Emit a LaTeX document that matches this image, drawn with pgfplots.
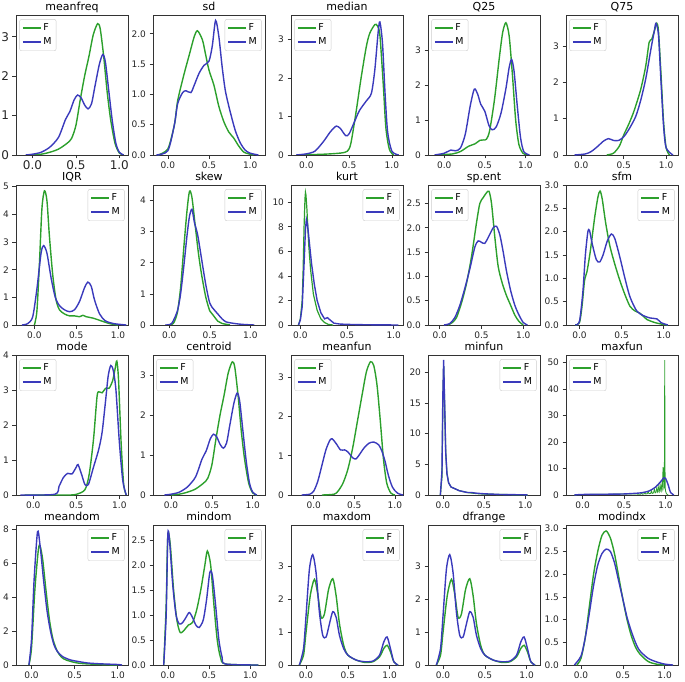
\documentclass[border=0pt]{standalone}
\usepackage{fontspec}
\setmainfont{DejaVu Sans}
\usepackage{pgfplots}
\pgfplotsset{compat=1.18}
\definecolor{Fgreen}{RGB}{44,160,44}
\definecolor{Mblue}{RGB}{58,58,188}
\pgfplotsset{
  every axis title shift=0pt,
  legend image code/.code={\draw[#1, line width=1.4pt] (0pt,0pt) -- (18pt,0pt);},
  kde/.style={
    scale only axis, width=112pt, height=140pt, anchor=north west,
    ymin=0, tick pos=left, tick align=outside, major tick length=3.5pt,
    axis line style={black!80, line width=0.6pt},
    every tick/.style={black!80, line width=0.6pt},
    /pgf/number format/assume math mode=true,
    tick label style={font=\fontsize{9}{11}\selectfont, text=black!85},
    title style={font=\fontsize{11}{13}\selectfont, at={(0.5,1)}, anchor=base, yshift=4.5pt, inner sep=0pt},
    xtick={0,0.5,1}, xticklabels={0.0,0.5,1.0},
    xmin=-0.18, xmax=1.16,
    legend cell align=left,
    legend style={draw=black!20, rounded corners=2pt, fill=white,
      font=\fontsize{9.5}{11}\selectfont, inner sep=2.5pt, row sep=1.5pt},
  },
  dec/.style={yticklabel style={/pgf/number format/.cd, fixed, fixed zerofill, precision=1}},
  F/.style={Fgreen, line width=1.4pt, smooth, tension=0.45},
  M/.style={Mblue, line width=1.4pt, smooth, tension=0.45},
  Fs/.style={Fgreen, line width=1.2pt},
  Ms/.style={Mblue, line width=1.4pt},
}
\begin{document}
\begin{tikzpicture}
\useasboundingbox (0,0) rectangle (685pt,-682pt);
% ---------------- Row 1 ----------------
\begin{axis}[kde, at={(16pt,-15pt)}, title=meanfreq, xmin=-0.19, xmax=1.1, ymax=3.55, ytick={0,1,2,3},
  tick label style={font=\fontsize{12}{14}\selectfont}, xticklabel style={inner sep=1.5pt}, legend pos=north west]
\addplot[F] coordinates {(0.0,0)(0.1,0.02)(0.2,0.07)(0.3,0.15)(0.4,0.3)(0.45,0.42)(0.5,0.75)(0.55,1.4)(0.6,2.0)(0.65,2.5)(0.7,3.05)(0.75,3.33)(0.78,3.2)(0.82,2.5)(0.86,1.6)(0.9,0.9)(0.95,0.3)(1.0,0.05)(1.05,0)};
\addplot[M] coordinates {(-0.08,0)(0.0,0.02)(0.1,0.07)(0.2,0.2)(0.3,0.45)(0.38,0.9)(0.43,1.1)(0.48,1.4)(0.52,1.52)(0.56,1.45)(0.6,1.27)(0.64,1.17)(0.68,1.3)(0.72,1.75)(0.77,2.3)(0.81,2.55)(0.84,2.35)(0.88,1.6)(0.92,0.85)(0.96,0.3)(1.0,0.07)(1.05,0)};
\legend{F,M}
\end{axis}
\begin{axis}[kde, dec, at={(153pt,-15pt)}, title=sd, xmin=-0.18, xmax=1.18, ymax=2.31, ytick={0,0.5,1,1.5,2}, legend pos=north east]
\addplot[F] coordinates {(-0.12,0)(0.0,0.1)(0.08,0.5)(0.12,0.9)(0.2,1.35)(0.26,1.65)(0.32,1.95)(0.36,2.05)(0.42,1.9)(0.46,1.65)(0.5,1.4)(0.56,1.15)(0.62,0.8)(0.68,0.55)(0.74,0.38)(0.8,0.28)(0.86,0.15)(0.92,0.05)(0.98,0.02)(1.04,0)};
\addplot[M] coordinates {(-0.14,0)(0.0,0.07)(0.08,0.5)(0.12,0.85)(0.18,1.03)(0.22,1.06)(0.28,1.03)(0.32,1.15)(0.38,1.35)(0.44,1.48)(0.5,1.55)(0.54,1.8)(0.58,2.22)(0.62,1.95)(0.66,1.45)(0.7,1.05)(0.76,0.7)(0.82,0.4)(0.88,0.2)(0.94,0.08)(1.0,0.03)(1.1,0)};
\legend{F,M}
\end{axis}
\begin{axis}[kde, at={(291pt,-15pt)}, title=median, xmin=-0.18, xmax=1.13, ymax=3.63, ytick={0,1,2,3}, legend pos=north west]
\addplot[F] coordinates {(-0.1,0)(0.2,0.02)(0.4,0.05)(0.48,0.1)(0.52,0.3)(0.58,1.1)(0.64,2.0)(0.7,2.8)(0.74,3.15)(0.8,3.38)(0.83,3.35)(0.86,3.1)(0.9,1.8)(0.93,0.7)(0.97,0.15)(1.02,0)};
\addplot[M] coordinates {(-0.12,0)(0.0,0.03)(0.1,0.1)(0.2,0.35)(0.28,0.6)(0.35,0.75)(0.4,0.68)(0.46,0.5)(0.5,0.55)(0.56,0.85)(0.62,1.15)(0.7,1.4)(0.76,1.6)(0.8,2.2)(0.84,3.2)(0.86,3.45)(0.89,2.9)(0.92,1.6)(0.95,0.6)(1.0,0.1)(1.08,0)};
\legend{F,M}
\end{axis}
\begin{axis}[kde, at={(428pt,-15pt)}, title=Q25, xmin=-0.2, xmax=1.18, ymax=4.0, ytick={0,1,2,3}, legend pos=north west]
\addplot[F] coordinates {(-0.1,0)(0.1,0.03)(0.2,0.1)(0.3,0.25)(0.38,0.32)(0.44,0.42)(0.48,0.43)(0.52,0.45)(0.56,0.7)(0.62,1.6)(0.68,2.8)(0.72,3.5)(0.76,3.78)(0.8,3.4)(0.84,2.3)(0.88,1.0)(0.92,0.3)(0.97,0.05)(1.02,0)};
\addplot[M] coordinates {(-0.12,0)(0.0,0.05)(0.08,0.14)(0.14,0.12)(0.2,0.2)(0.26,0.6)(0.32,1.4)(0.37,1.88)(0.41,1.75)(0.45,1.45)(0.5,1.25)(0.55,0.85)(0.59,0.72)(0.64,0.8)(0.7,1.2)(0.76,1.9)(0.8,2.5)(0.83,2.73)(0.86,2.4)(0.9,1.4)(0.94,0.5)(0.98,0.1)(1.05,0)};
\legend{F,M}
\end{axis}
\begin{axis}[kde, at={(566pt,-15pt)}, title=Q75, xmin=-0.18, xmax=1.14, ymax=3.85, ytick={0,1,2,3}, legend pos=north west]
\addplot[F] coordinates {(0.3,0)(0.38,0.05)(0.45,0.25)(0.5,0.55)(0.56,0.85)(0.62,1.2)(0.7,1.8)(0.76,2.45)(0.8,3.1)(0.83,3.18)(0.86,3.4)(0.89,3.62)(0.91,3.4)(0.94,2.2)(0.97,0.9)(1.0,0.2)(1.04,0)};
\addplot[M] coordinates {(-0.08,0)(0.05,0.03)(0.12,0.1)(0.2,0.25)(0.26,0.38)(0.32,0.45)(0.38,0.4)(0.44,0.4)(0.5,0.5)(0.56,0.7)(0.64,1.05)(0.7,1.5)(0.76,2.1)(0.82,2.9)(0.86,3.4)(0.88,3.62)(0.91,3.3)(0.94,2.0)(0.97,0.8)(1.0,0.2)(1.08,0)};
\legend{F,M}
\end{axis}
% ---------------- Row 2 ----------------
\begin{axis}[kde, at={(16pt,-185pt)}, title=IQR, xmin=-0.22, xmax=1.12, ymax=5.06, ytick={0,1,2,3,4,5}, legend pos=north east]
\addplot[F] coordinates {(0.0,0)(0.03,0.5)(0.06,2.2)(0.09,4.2)(0.12,4.85)(0.15,4.5)(0.18,3.2)(0.22,1.8)(0.26,0.9)(0.3,0.55)(0.36,0.4)(0.42,0.33)(0.48,0.33)(0.54,0.3)(0.58,0.35)(0.62,0.3)(0.7,0.25)(0.8,0.15)(0.9,0.05)(1.0,0)};
\addplot[M] coordinates {(-0.15,0)(-0.08,0.05)(-0.02,0.3)(0.03,1.3)(0.08,2.6)(0.11,2.87)(0.15,2.6)(0.2,1.7)(0.25,1.0)(0.3,0.7)(0.36,0.55)(0.42,0.48)(0.48,0.55)(0.54,0.85)(0.6,1.35)(0.64,1.55)(0.68,1.4)(0.72,0.9)(0.78,0.4)(0.85,0.15)(0.95,0.05)(1.1,0)};
\legend{F,M}
\end{axis}
\begin{axis}[kde, at={(153pt,-185pt)}, title=skew, xmin=-0.2, xmax=1.18, ymax=4.5, ytick={0,1,2,3,4}, legend pos=north east]
\addplot[F] coordinates {(-0.02,0)(0.05,0.05)(0.1,0.4)(0.14,1.2)(0.18,2.5)(0.22,3.7)(0.25,4.3)(0.28,4.1)(0.32,3.2)(0.36,2.3)(0.4,1.6)(0.45,0.9)(0.5,0.45)(0.54,0.32)(0.6,0.12)(0.65,0.05)(0.75,0)};
\addplot[M] coordinates {(-0.05,0)(0.03,0.05)(0.1,0.45)(0.14,1.0)(0.18,1.9)(0.22,2.9)(0.25,3.5)(0.28,3.72)(0.31,3.3)(0.35,2.9)(0.4,2.1)(0.45,1.3)(0.5,0.7)(0.55,0.5)(0.6,0.35)(0.65,0.2)(0.7,0.1)(0.8,0.05)(0.9,0.02)(1.05,0)};
\legend{F,M}
\end{axis}
\begin{axis}[kde, at={(291pt,-185pt)}, title=kurt, xmin=-0.1, xmax=1.1, ymax=11.4, ytick={0,2,4,6,8,10}, legend pos=north east]
\addplot[Fs] coordinates {(-0.02,0)(0.0,0.5)(0.02,2)(0.03,4.5)(0.04,8)(0.05,10.3)(0.055,10.8)(0.06,10.6)(0.07,9.5)(0.09,6.5)(0.11,4.5)(0.14,2.5)(0.18,1.2)(0.22,0.5)(0.26,0.2)(0.3,0.05)(0.35,0)};
\addplot[Ms] coordinates {(-0.02,0)(0.0,0.4)(0.02,1.5)(0.04,5)(0.055,7.8)(0.065,8.6)(0.075,8.3)(0.09,7.2)(0.12,5)(0.15,3.3)(0.18,2.0)(0.22,1.0)(0.26,0.5)(0.29,0.6)(0.32,0.4)(0.36,0.15)(0.42,0.08)(0.5,0.05)(0.7,0.02)(1.05,0)};
\legend{F,M}
\end{axis}
\begin{axis}[kde, dec, at={(428pt,-185pt)}, title=sp.ent, xmin=-0.14, xmax=1.2, ymax=2.88, ytick={0,0.5,1,1.5,2,2.5}, legend pos=north west]
\addplot[F] coordinates {(0.1,0)(0.15,0.05)(0.2,0.15)(0.26,0.45)(0.32,0.85)(0.38,1.4)(0.44,2.1)(0.48,2.5)(0.52,2.62)(0.56,2.72)(0.59,2.75)(0.62,2.5)(0.66,1.8)(0.7,1.2)(0.75,0.85)(0.8,0.6)(0.85,0.4)(0.9,0.2)(0.95,0.07)(1.0,0)};
\addplot[M] coordinates {(0.05,0)(0.12,0.03)(0.18,0.15)(0.24,0.4)(0.3,0.75)(0.36,1.15)(0.42,1.6)(0.46,1.73)(0.5,1.7)(0.54,1.68)(0.58,1.8)(0.64,2.0)(0.68,2.03)(0.72,1.85)(0.76,1.5)(0.8,1.1)(0.85,0.7)(0.9,0.4)(0.95,0.2)(1.0,0.05)(1.05,0)};
\legend{F,M}
\end{axis}
\begin{axis}[kde, dec, at={(566pt,-185pt)}, title=sfm, xmin=-0.16, xmax=1.17, ymax=3.0, ytick={0,0.5,1,1.5,2,2.5,3}, legend pos=north east]
\addplot[F] coordinates {(-0.05,0)(0.0,0.05)(0.03,0.4)(0.06,0.95)(0.09,1.15)(0.13,1.6)(0.18,2.3)(0.22,2.75)(0.245,2.87)(0.27,2.7)(0.31,2.2)(0.36,1.7)(0.42,1.3)(0.48,0.95)(0.54,0.65)(0.6,0.4)(0.66,0.3)(0.72,0.25)(0.8,0.12)(0.9,0.05)(1.0,0.01)(1.05,0)};
\addplot[M] coordinates {(-0.05,0)(0.0,0.08)(0.04,0.7)(0.07,1.5)(0.1,2.0)(0.12,2.02)(0.15,1.75)(0.2,1.4)(0.24,1.35)(0.28,1.5)(0.33,1.8)(0.38,1.95)(0.42,1.85)(0.48,1.45)(0.54,1.0)(0.6,0.6)(0.68,0.3)(0.76,0.2)(0.84,0.15)(0.92,0.13)(0.97,0.05)(1.05,0)};
\legend{F,M}
\end{axis}
% ---------------- Row 3 ----------------
\begin{axis}[kde, at={(16pt,-355pt)}, title=mode, xmin=-0.2, xmax=1.1, ymax=4.0, ytick={0,1,2,3,4}, legend pos=north west]
\addplot[F] coordinates {(-0.1,0)(0.4,0)(0.5,0.02)(0.6,0.15)(0.65,0.6)(0.7,1.6)(0.74,2.8)(0.76,2.95)(0.8,2.92)(0.84,3.05)(0.88,3.05)(0.92,3.25)(0.95,3.6)(0.97,3.83)(0.99,3.3)(1.02,1.5)(1.05,0.3)(1.08,0)};
\addplot[M] coordinates {(-0.15,0)(0.25,0.02)(0.3,0.25)(0.35,0.5)(0.4,0.62)(0.45,0.6)(0.5,0.8)(0.52,0.87)(0.56,0.6)(0.6,0.3)(0.64,0.3)(0.7,0.8)(0.76,1.3)(0.8,1.8)(0.84,2.7)(0.87,3.4)(0.9,3.7)(0.93,3.55)(0.96,3.0)(1.0,1.5)(1.04,0.4)(1.08,0)};
\legend{F,M}
\end{axis}
\begin{axis}[kde, at={(153pt,-355pt)}, title=centroid, xmin=-0.22, xmax=1.15, ymax=3.5, ytick={0,1,2,3}, legend pos=north west]
\addplot[F] coordinates {(0.0,0)(0.1,0.02)(0.2,0.07)(0.3,0.15)(0.4,0.3)(0.45,0.42)(0.5,0.75)(0.55,1.4)(0.6,2.0)(0.65,2.5)(0.7,3.05)(0.75,3.33)(0.78,3.2)(0.82,2.5)(0.86,1.6)(0.9,0.9)(0.95,0.3)(1.0,0.05)(1.05,0)};
\addplot[M] coordinates {(-0.08,0)(0.0,0.02)(0.1,0.07)(0.2,0.2)(0.3,0.45)(0.38,0.9)(0.43,1.1)(0.48,1.4)(0.52,1.52)(0.56,1.45)(0.6,1.27)(0.64,1.17)(0.68,1.3)(0.72,1.75)(0.77,2.3)(0.81,2.55)(0.84,2.35)(0.88,1.6)(0.92,0.85)(0.96,0.3)(1.0,0.07)(1.05,0)};
\legend{F,M}
\end{axis}
\begin{axis}[kde, at={(291pt,-355pt)}, title=meanfun, xmin=-0.28, xmax=1.1, ymax=3.57, ytick={0,1,2,3}, legend pos=north west]
\addplot[F] coordinates {(0.1,0)(0.25,0.02)(0.3,0.1)(0.36,0.3)(0.42,0.65)(0.48,1.2)(0.54,1.9)(0.6,2.6)(0.65,3.15)(0.7,3.4)(0.74,3.3)(0.78,2.8)(0.82,1.9)(0.86,0.9)(0.9,0.3)(0.95,0.05)(1.0,0)};
\addplot[M] coordinates {(-0.15,0)(-0.05,0.02)(0.0,0.1)(0.05,0.35)(0.1,0.75)(0.15,1.15)(0.2,1.4)(0.23,1.43)(0.28,1.3)(0.33,1.15)(0.38,1.15)(0.42,1.1)(0.48,0.95)(0.52,0.92)(0.56,1.02)(0.62,1.2)(0.68,1.32)(0.74,1.35)(0.8,1.28)(0.84,1.12)(0.88,0.85)(0.92,0.5)(0.97,0.2)(1.03,0.05)(1.1,0)};
\legend{F,M}
\end{axis}
\begin{axis}[kde, at={(428pt,-355pt)}, title=minfun, xmin=-0.18, xmax=1.18, ymax=22.8, ytick={0,5,10,15,20}, legend pos=north east]
\addplot[Fs] coordinates {(-0.03,0)(-0.01,3)(0.0,15)(0.01,21)(0.02,16)(0.035,7)(0.05,3.5)(0.07,2.0)(0.1,1.3)(0.15,1.0)(0.2,0.7)(0.3,0.4)(0.4,0.25)(0.5,0.15)(0.7,0.08)(1.0,0.03)(1.03,0)};
\addplot[Ms] coordinates {(-0.03,0)(-0.01,4)(0.0,16)(0.01,22)(0.02,16)(0.035,7)(0.05,3.5)(0.07,2.0)(0.1,1.3)(0.15,1.0)(0.2,0.7)(0.3,0.4)(0.35,0.4)(0.4,0.3)(0.5,0.2)(0.7,0.08)(1.0,0.03)(1.03,0)};
\legend{F,M}
\end{axis}
\begin{axis}[kde, at={(566pt,-355pt)}, title=maxfun, xmin=-0.2, xmax=1.15, ymax=52.9, ytick={0,10,20,30,40,50}, legend pos=north west]
\addplot[Fs, line width=0.8pt] coordinates {(-0.1,0)(0.0,0.2)(0.3,0.3)(0.6,0.4)(0.7,0.3)(0.71,0.8)(0.72,0.3)(0.74,0.4)(0.75,1.0)(0.76,0.4)(0.78,0.5)(0.79,1.3)(0.8,0.5)(0.82,0.6)(0.83,1.6)(0.84,0.6)(0.855,0.8)(0.865,2.2)(0.875,0.8)(0.885,1.0)(0.895,3.0)(0.905,1.0)(0.91,1.2)(0.92,3.8)(0.93,1.2)(0.935,1.5)(0.945,4.3)(0.955,1.5)(0.96,2.0)(0.97,10.5)(0.98,2.5)(0.985,3)(0.99,51)(0.995,3)(1.0,1.5)(1.01,0.5)(1.03,0)};
\addplot[M] coordinates {(-0.1,0)(0.0,0.2)(0.3,0.3)(0.5,0.4)(0.7,0.8)(0.8,1.5)(0.88,3)(0.94,5)(0.98,6.5)(1.0,6.3)(1.03,4)(1.06,1)(1.1,0)};
\legend{F,M}
\end{axis}
% ---------------- Row 4 ----------------
\begin{axis}[kde, at={(16pt,-525pt)}, title=meandom, xmin=-0.18, xmax=1.12, ymax=8.24, ytick={0,2,4,6,8}, legend pos=north east]
\addplot[F] coordinates {(-0.03,0)(0.0,1)(0.04,4.5)(0.08,6.8)(0.1,7.0)(0.13,6.2)(0.17,4.3)(0.21,2.6)(0.25,1.5)(0.3,0.8)(0.35,0.45)(0.4,0.3)(0.5,0.15)(0.6,0.08)(0.8,0.03)(1.0,0)};
\addplot[M] coordinates {(-0.03,0)(0.0,1.5)(0.03,5)(0.07,7.85)(0.1,7.0)(0.14,5)(0.18,3.2)(0.22,2.0)(0.26,1.2)(0.3,0.8)(0.36,0.5)(0.45,0.3)(0.55,0.2)(0.65,0.12)(0.8,0.07)(1.0,0.03)(1.05,0)};
\legend{F,M}
\end{axis}
\begin{axis}[kde, dec, at={(153pt,-525pt)}, title=mindom, xmin=-0.18, xmax=1.18, ymax=2.8, ytick={0,0.5,1,1.5,2,2.5}, legend pos=north east]
\addplot[F] coordinates {(-0.05,0)(-0.02,1.2)(0.0,2.6)(0.03,2.4)(0.07,1.5)(0.11,0.9)(0.15,0.65)(0.2,0.7)(0.25,0.8)(0.3,0.85)(0.35,1.1)(0.4,1.5)(0.45,2.0)(0.48,2.28)(0.52,2.0)(0.56,1.2)(0.6,0.5)(0.64,0.15)(0.7,0.02)(1.1,0)};
\addplot[M] coordinates {(-0.05,0)(-0.02,1)(0.0,2.6)(0.02,2.5)(0.06,1.6)(0.1,1.0)(0.14,0.82)(0.18,0.85)(0.22,0.95)(0.26,1.05)(0.3,0.95)(0.34,0.8)(0.38,0.75)(0.43,0.9)(0.47,1.3)(0.51,1.85)(0.54,1.8)(0.58,1.2)(0.62,0.5)(0.66,0.15)(0.7,0.02)(1.1,0)};
\legend{F,M}
\end{axis}
\begin{axis}[kde, at={(291pt,-525pt)}, title=maxdom, xmin=-0.18, xmax=1.16, ymax=4.25, ytick={0,1,2,3}, legend pos=north east]
\addplot[F] coordinates {(-0.08,0)(-0.03,0.3)(0.0,1.0)(0.05,2.1)(0.1,2.6)(0.14,2.15)(0.18,1.45)(0.22,1.55)(0.27,2.3)(0.32,2.62)(0.36,2.1)(0.4,1.25)(0.45,0.6)(0.5,0.3)(0.6,0.15)(0.7,0.08)(0.8,0.1)(0.88,0.25)(0.93,0.5)(0.97,0.6)(1.01,0.4)(1.05,0.1)(1.1,0)};
\addplot[M] coordinates {(-0.08,0)(-0.03,0.5)(0.0,1.5)(0.04,2.9)(0.08,3.35)(0.12,2.8)(0.16,1.6)(0.2,0.9)(0.24,0.85)(0.28,1.25)(0.32,1.62)(0.36,1.45)(0.4,0.9)(0.45,0.5)(0.5,0.3)(0.6,0.15)(0.7,0.1)(0.8,0.12)(0.88,0.3)(0.93,0.7)(0.97,0.85)(1.01,0.5)(1.05,0.1)(1.1,0)};
\legend{F,M}
\end{axis}
\begin{axis}[kde, at={(428pt,-525pt)}, title=dfrange, xmin=-0.18, xmax=1.16, ymax=4.25, ytick={0,1,2,3}, legend pos=north east]
\addplot[F] coordinates {(-0.08,0)(-0.03,0.3)(0.0,1.0)(0.05,2.1)(0.1,2.6)(0.14,2.15)(0.18,1.45)(0.22,1.55)(0.27,2.3)(0.32,2.62)(0.36,2.1)(0.4,1.25)(0.45,0.6)(0.5,0.3)(0.6,0.15)(0.7,0.08)(0.8,0.1)(0.88,0.25)(0.93,0.5)(0.97,0.6)(1.01,0.4)(1.05,0.1)(1.1,0)};
\addplot[M] coordinates {(-0.08,0)(-0.03,0.5)(0.0,1.5)(0.04,2.9)(0.08,3.35)(0.12,2.8)(0.16,1.6)(0.2,0.9)(0.24,0.85)(0.28,1.25)(0.32,1.62)(0.36,1.45)(0.4,0.9)(0.45,0.5)(0.5,0.3)(0.6,0.15)(0.7,0.1)(0.8,0.12)(0.88,0.3)(0.93,0.7)(0.97,0.85)(1.01,0.5)(1.05,0.1)(1.1,0)};
\legend{F,M}
\end{axis}
\begin{axis}[kde, dec, at={(566pt,-525pt)}, title=modindx, xmin=-0.18, xmax=1.16, ymax=3.08, ytick={0,0.5,1,1.5,2,2.5,3}, legend pos=north east]
\addplot[F] coordinates {(-0.05,0)(0.0,0.15)(0.05,0.6)(0.1,1.3)(0.15,2.0)(0.2,2.5)(0.25,2.85)(0.3,2.95)(0.35,2.8)(0.4,2.45)(0.45,1.95)(0.5,1.45)(0.55,1.0)(0.6,0.65)(0.65,0.4)(0.7,0.25)(0.8,0.08)(0.9,0.02)(1.0,0)};
\addplot[M] coordinates {(-0.08,0)(0.0,0.2)(0.05,0.6)(0.1,1.15)(0.15,1.75)(0.2,2.2)(0.25,2.45)(0.3,2.55)(0.35,2.5)(0.4,2.25)(0.45,1.85)(0.5,1.45)(0.55,1.05)(0.6,0.75)(0.65,0.5)(0.7,0.32)(0.8,0.15)(0.9,0.07)(1.0,0.02)(1.1,0)};
\legend{F,M}
\end{axis}
\end{tikzpicture}
\end{document}
